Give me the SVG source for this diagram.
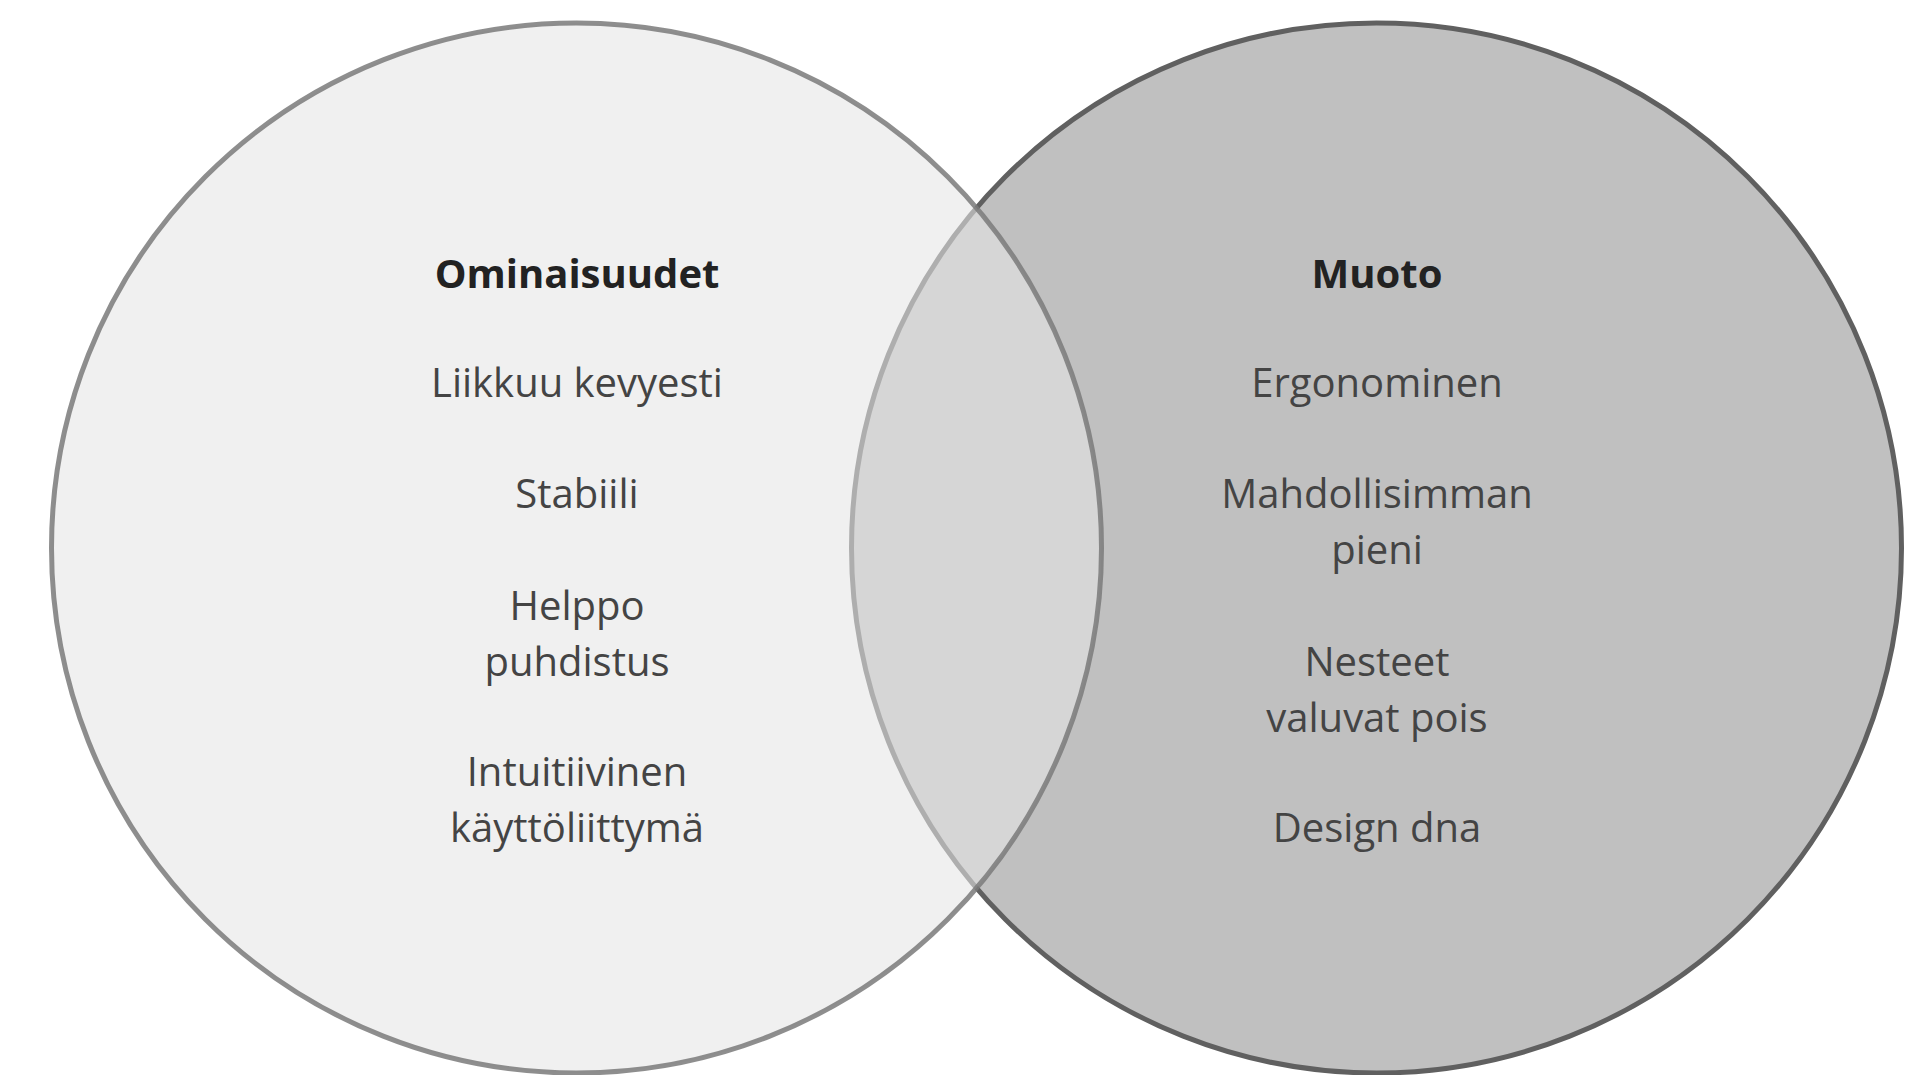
<svg xmlns="http://www.w3.org/2000/svg" width="1907" height="1075" viewBox="0 0 1907 1075">
  <style>
    .t { font-family: "Open Sans", "Noto Sans", "DejaVu Sans", sans-serif; font-size: 40px; text-anchor: middle; fill: #444444; }
    .h { font-weight: bold; fill: #222222; }
  </style>
  <rect width="1907" height="1075" fill="#ffffff"/>
  <g id="node-muoto">
    <circle cx="1376.5" cy="548" r="525" fill="#c0c0c0" stroke="#606060" stroke-width="5"/>
  </g>
  <g id="node-ominaisuudet">
    <circle cx="576.5" cy="548" r="525" fill="#e6e6e6" fill-opacity="0.59" stroke="#7a7a7a" stroke-opacity="0.85" stroke-width="5"/>
  </g>
  <g id="labels-ominaisuudet">
    <text class="t h" x="577" y="288">Ominaisuudet</text>
    <text class="t" x="577" y="397">Liikkuu kevyesti</text>
    <text class="t" x="577" y="508">Stabiili</text>
    <text class="t" x="577" y="620">Helppo</text>
    <text class="t" x="577" y="676">puhdistus</text>
    <text class="t" x="577" y="786">Intuitiivinen</text>
    <text class="t" x="577" y="842">käyttöliittymä</text>
  </g>
  <g id="labels-muoto">
    <text class="t h" x="1377" y="288">Muoto</text>
    <text class="t" x="1377" y="397">Ergonominen</text>
    <text class="t" x="1377" y="508">Mahdollisimman</text>
    <text class="t" x="1377" y="564">pieni</text>
    <text class="t" x="1377" y="676">Nesteet</text>
    <text class="t" x="1377" y="732">valuvat pois</text>
    <text class="t" x="1377" y="842">Design dna</text>
  </g>
  <g id="connectors"/>
</svg>
